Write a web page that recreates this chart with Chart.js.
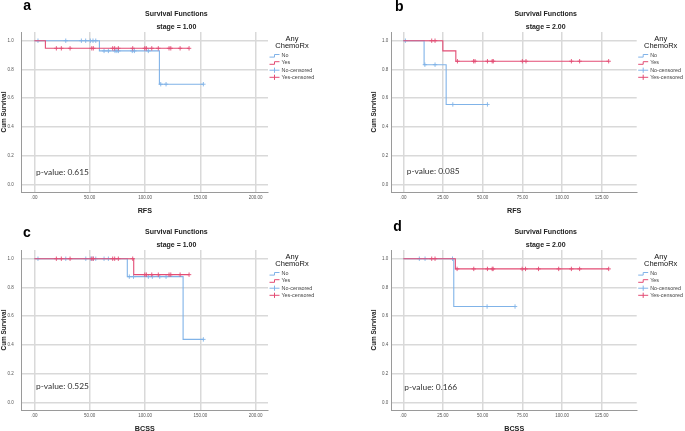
<!DOCTYPE html>
<html>
<head>
<meta charset="utf-8">
<script src="https://cdn.jsdelivr.net/npm/chart.js@4.4.1/dist/chart.umd.min.js"></script>
<style>
  html, body { margin: 0; padding: 0; background: #fff; width: 685px; height: 431px; overflow: hidden; }
  #wrap { position: relative; width: 685px; height: 431px; }
  canvas { position: absolute; }
</style>
</head>
<body>
<div id="wrap">
  <canvas id="pa" width="340" height="215" style="left:0px;top:0px"></canvas>
  <canvas id="pb" width="345" height="215" style="left:340px;top:0px"></canvas>
  <canvas id="pc" width="340" height="215" style="left:0px;top:218px"></canvas>
  <canvas id="pd" width="345" height="215" style="left:340px;top:218px"></canvas>
</div>
<script>
// ---------------- texts ----------------
const panelLetters = ['a', 'b', 'c', 'd'];
const chartTitle = 'Survival Functions';
const stageLabels = ['stage = 1.00', 'stage = 2.00', 'stage = 1.00', 'stage = 2.00'];
const xAxisTitles = ['RFS', 'RFS', 'BCSS', 'BCSS'];
const yAxisTitle = 'Cum Survival';
const legendTitle = ['Any', 'ChemoRx'];
const legendLabels = ['No', 'Yes', 'No-censored', 'Yes-censored'];
const pValueLabels = ['p-value: 0.615', 'p-value: 0.085', 'p-value: 0.525', 'p-value: 0.166'];

// ---------------- ticks ----------------
const yTickValues = [0, 0.2, 0.4, 0.6, 0.8, 1.0];
const yTickLabels = ['0.0', '0.2', '0.4', '0.6', '0.8', '1.0'];
const xTickValuesLong = [0, 50, 100, 150, 200];
const xTickLabelsLong = ['.00', '50.00', '100.00', '150.00', '200.00'];
const xTickValuesShort = [0, 25, 50, 75, 100, 125];
const xTickLabelsShort = ['.00', '25.00', '50.00', '75.00', '100.00', '125.00'];

// ---------------- panel a : RFS, stage 1 ----------------
const aNoTime = [0, 58.8, 113, 152.7];
const aNoSurv = [1, 0.929, 0.697, 0.697];
const aNoCensored = [[1.0, [3.3, 28.4, 42.5, 46.4, 50.6, 53, 55.5]],
                     [0.929, [63, 66.9, 72.9, 74.6, 76, 88.5, 90.4, 103]],
                     [0.697, [114.2, 119, 152.7]]];
const aYesTime = [0, 10, 139.8];
const aYesSurv = [1, 0.947, 0.947];
const aYesCensored = [[0.947, [19.9, 24.4, 32.3, 51.9, 53.3, 70.8, 72.6, 75.9, 88.9, 99.8, 101.2, 106.1, 112, 121.7, 123.3, 131.7, 139.8]]];

// ---------------- panel b : RFS, stage 2 ----------------
const bNoTime = [0, 13.1, 27, 53];
const bNoSurv = [1, 0.833, 0.556, 0.556];
const bNoCensored = [[1.0, [1.3]], [0.833, [13.6, 20]], [0.556, [31.2, 53]]];
const bYesTime = [0, 24.9, 33.1, 129.4];
const bYesSurv = [1, 0.929, 0.857, 0.857];
const bYesCensored = [[1.0, [17.9, 20]],
                      [0.857, [34.1, 44.3, 45.2, 53, 56, 56.7, 75, 77.3, 105.9, 111.1, 129.4]]];

// ---------------- panel c : BCSS, stage 1 ----------------
const cNoTime = [0, 84, 134.4, 152.7];
const cNoSurv = [1, 0.875, 0.438, 0.438];
const cNoCensored = [[1.0, [3.3, 28.4, 46.5, 51, 53, 55.5, 63, 66.9]],
                     [0.875, [85.8, 89.6, 103, 106.6, 113.3, 119]],
                     [0.438, [152.7]]];
const cYesTime = [0, 89.8, 139.8];
const cYesSurv = [1, 0.889, 0.889];
const cYesCensored = [[1.0, [19.9, 24.4, 32.3, 51.9, 53.3, 70.8, 72.6, 75.9, 88.9]],
                      [0.889, [99.8, 101.2, 106.1, 112, 121.7, 123.3, 131.7, 139.8]]];

// ---------------- panel d : BCSS, stage 2 ----------------
const dNoTime = [0, 31.8, 70.4];
const dNoSurv = [1, 0.667, 0.667];
const dNoCensored = [[1.0, [10.1, 13.7, 31]], [0.667, [52.8, 70.4]]];
const dYesTime = [0, 32.8, 129.4];
const dYesSurv = [1, 0.929, 0.929];
const dYesCensored = [[1.0, [17.9, 20]],
                      [0.929, [33.9, 44.4, 53, 56, 56.6, 74.9, 77, 85.2, 97.9, 105.9, 111.1, 129.4]]];

// ---------------- styling / layout ----------------
const FONT = '"Liberation Sans", Arial, sans-serif';
const COLOR_NO = '#80b3e8';
const COLOR_YES = '#e34c74';

const layouts = {
  a: { canvas: 'pa', W: 340, H: 215, ca: { l: 21.7, t: 32, r: 268, b: 192 }, xMin: -11.4, xMax: 211.1,
       yTickPad: 8, letterX: 23.3, letterY: 10.2, pX: 36, pY: 172 },
  b: { canvas: 'pb', W: 345, H: 215, ca: { l: 51.7, t: 32, r: 296.7, b: 192 }, xMin: -7.31, xMax: 147.05,
       yTickPad: 3.5, letterX: 55, letterY: 10.7, pX: 66.7, pY: 171 },
  c: { canvas: 'pc', W: 340, H: 215, ca: { l: 21.7, t: 32, r: 268, b: 192 }, xMin: -11.4, xMax: 211.1,
       yTickPad: 8, letterX: 23, letterY: 19, pX: 36, pY: 168.7 },
  d: { canvas: 'pd', W: 345, H: 215, ca: { l: 51.7, t: 32, r: 296.7, b: 192 }, xMin: -7.31, xMax: 147.05,
       yTickPad: 3.5, letterX: 53.3, letterY: 12.7, pX: 64.3, pY: 169.7 }
};
const Y_MIN = -0.0536, Y_MAX = 1.0606;

function curvePoints(times, surv) { return times.map((t, i) => ({ x: t, y: surv[i] })); }
function censorPoints(groups) {
  const pts = [];
  groups.forEach(([level, times]) => times.forEach(t => pts.push({ x: t, y: level })));
  return pts;
}

const decorPlugin = {
  id: 'kmDecor',
  afterDraw(chart, args, o) {
    const ctx = chart.ctx, ca = chart.chartArea;
    ctx.save();
    // panel letter
    ctx.fillStyle = '#000';
    ctx.textAlign = 'left'; ctx.textBaseline = 'alphabetic';
    ctx.font = 'bold 14px ' + FONT;
    ctx.fillText(o.letter, o.letterX, o.letterY);
    // titles
    const cx = (ca.left + ca.right) / 2 + 31.5;
    ctx.textAlign = 'center'; ctx.textBaseline = 'middle';
    ctx.fillStyle = '#222';
    ctx.font = 'bold 7px ' + FONT;
    ctx.fillText(o.title, cx, 14);
    ctx.fillText(o.stage, cx, 26.7);
    // p-value
    ctx.textAlign = 'left';
    ctx.fillStyle = '#333';
    ctx.font = '8.4px Lato, "Open Sans", sans-serif';
    ctx.fillText(o.pValue, o.pX, o.pY);
    // legend
    const lcx = ca.right + 24;
    ctx.textAlign = 'center';
    ctx.fillStyle = '#111';
    ctx.font = '7.5px ' + FONT;
    ctx.fillText(legendTitle[0], lcx, 39);
    ctx.fillText(legendTitle[1], lcx, 45.7);
    const ys = [55.8, 63, 70.2, 77.3];
    const cols = [COLOR_NO, COLOR_YES, COLOR_NO, COLOR_YES];
    const ix = ca.right + 1.5;
    ctx.font = '5.4px ' + FONT;
    ctx.textAlign = 'left';
    legendLabels.forEach((lab, i) => {
      const y = ys[i];
      ctx.strokeStyle = cols[i]; ctx.lineWidth = 1;
      ctx.beginPath();
      if (i < 2) {
        ctx.moveTo(ix, y + 1.3); ctx.lineTo(ix + 5, y + 1.3);
        ctx.lineTo(ix + 5, y - 1.3); ctx.lineTo(ix + 10, y - 1.3);
      } else {
        ctx.moveTo(ix, y); ctx.lineTo(ix + 10, y);
        ctx.moveTo(ix + 5, y - 2.6); ctx.lineTo(ix + 5, y + 2.6);
      }
      ctx.stroke();
      ctx.fillStyle = '#444';
      ctx.fillText(lab, ix + 12, y);
    });
    ctx.restore();
  }
};

function makePanel(idx, key, noT, noS, noC, yesT, yesS, yesC, xVals, xLabs) {
  const g = layouts[key];
  const cnv = document.getElementById(g.canvas);
  return new Chart(cnv, {
    type: 'line',
    data: {
      datasets: [
        { data: curvePoints(yesT, yesS), borderColor: COLOR_YES, borderWidth: 1.1, stepped: true,
          pointRadius: 0, fill: false },
        { data: censorPoints(yesC), showLine: false, pointStyle: 'cross', pointRadius: 2.2,
          pointBorderColor: COLOR_YES, pointBorderWidth: 0.9, borderColor: COLOR_YES },
        { data: curvePoints(noT, noS), borderColor: COLOR_NO, borderWidth: 1.1, stepped: true,
          pointRadius: 0, fill: false },
        { data: censorPoints(noC), showLine: false, pointStyle: 'cross', pointRadius: 2.2,
          pointBorderColor: COLOR_NO, pointBorderWidth: 0.9, borderColor: COLOR_NO }
      ]
    },
    options: {
      responsive: false, animation: false, events: [], devicePixelRatio: 1,
      layout: { padding: { left: g.ca.l - 21.7, top: g.ca.t, right: g.W - g.ca.r, bottom: 0 } },
      plugins: {
        legend: { display: false }, tooltip: { enabled: false },
        kmDecor: { letter: panelLetters[idx], title: chartTitle, stage: stageLabels[idx],
                   pValue: pValueLabels[idx], letterX: g.letterX, letterY: g.letterY, pX: g.pX, pY: g.pY }
      },
      scales: {
        x: {
          type: 'linear', min: g.xMin, max: g.xMax,
          afterBuildTicks: s => { s.ticks = xVals.map(v => ({ value: v })); },
          afterFit: s => { s.height = g.H - g.ca.b; },
          ticks: { autoSkip: false, maxRotation: 0, padding: 2.6, color: '#555',
                   font: { size: 4.5, family: FONT }, callback: (v, i) => xLabs[i] },
          grid: { color: '#d9d9d9', lineWidth: 1.5, drawTicks: false },
          border: { color: '#9a9a9a', width: 1 },
          title: { display: true, text: xAxisTitles[idx], color: '#222', padding: 0,
                   font: { size: 7.2, weight: 'bold', family: FONT } }
        },
        y: {
          type: 'linear', min: Y_MIN, max: Y_MAX,
          afterBuildTicks: s => { s.ticks = yTickValues.map(v => ({ value: v })); },
          afterFit: s => { s.width = 21.7; },
          ticks: { autoSkip: false, padding: g.yTickPad, color: '#555',
                   font: { size: 4.5, family: FONT }, callback: (v, i) => yTickLabels[i] },
          grid: { color: '#d9d9d9', lineWidth: 1.5, drawTicks: false },
          border: { color: '#9a9a9a', width: 1 },
          title: { display: true, text: yAxisTitle, color: '#222', padding: 0,
                   font: { size: 6.4, weight: 'bold', family: FONT } }
        }
      }
    },
    plugins: [decorPlugin]
  });
}

makePanel(0, 'a', aNoTime, aNoSurv, aNoCensored, aYesTime, aYesSurv, aYesCensored, xTickValuesLong, xTickLabelsLong);
makePanel(1, 'b', bNoTime, bNoSurv, bNoCensored, bYesTime, bYesSurv, bYesCensored, xTickValuesShort, xTickLabelsShort);
makePanel(2, 'c', cNoTime, cNoSurv, cNoCensored, cYesTime, cYesSurv, cYesCensored, xTickValuesLong, xTickLabelsLong);
makePanel(3, 'd', dNoTime, dNoSurv, dNoCensored, dYesTime, dYesSurv, dYesCensored, xTickValuesShort, xTickLabelsShort);
</script>
</body>
</html>
